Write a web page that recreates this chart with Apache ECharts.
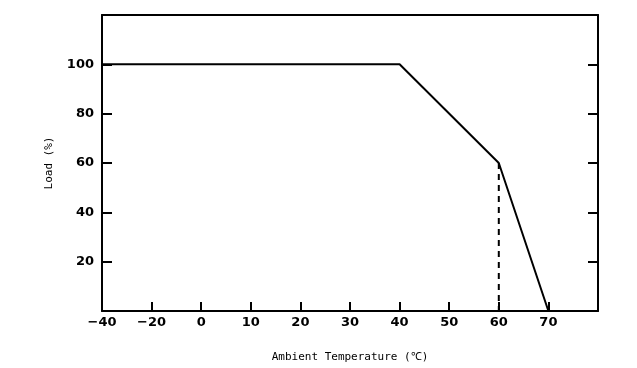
<!DOCTYPE html>
<html>
<head>
<meta charset="utf-8">
<script src="https://cdn.jsdelivr.net/npm/echarts@6/dist/echarts.min.js"></script>
<style>html,body{margin:0;padding:0;background:#fff}#c{width:637px;height:368px}</style>
</head>
<body>
<div id="c"></div>
<script>
var xCategories = ['-40','-20','0','10','20','30','40','50','60','70',''];
var derating = [['-40',100],['40',100],['60',60],['70',0]];
var dashedMark = [['60',60],['60',0]];
var yMin = 0, yMax = 120, yStep = 20;

var chart = echarts.init(document.getElementById('c'));
var lab = {color:'#000', fontFamily:'DejaVu Sans', fontWeight:'bold', fontSize:13};
chart.setOption({
  animation:false,
  grid:{left:102, right:39, top:15, bottom:56},
  xAxis:[{
    type:'category', data:xCategories, boundaryGap:false,
    name:'Ambient Temperature (℃)', nameLocation:'middle', nameGap:41,
    nameTextStyle:{color:'#000', fontFamily:'DejaVu Sans Mono', fontSize:11},
    axisLine:{onZero:false, lineStyle:{color:'#000', width:2}},
    axisTick:{inside:true, length:9, interval:0, lineStyle:{color:'#000', width:2}},
    axisLabel:Object.assign({margin:5, interval:0, formatter:function(v){return v.replace('-','\u2212');}}, lab),
    splitLine:{show:false}
  },{
    type:'category', data:xCategories, boundaryGap:false, position:'top',
    axisLine:{show:true, onZero:false, lineStyle:{color:'#000', width:2}},
    axisTick:{show:false}, axisLabel:{show:false}, splitLine:{show:false}
  }],
  yAxis:[{
    type:'value', min:yMin, max:yMax, interval:yStep,
    name:'Load (%)', nameLocation:'middle', nameGap:47,
    nameTextStyle:{color:'#000', fontFamily:'DejaVu Sans Mono', fontSize:11},
    axisLine:{show:true, onZero:false, lineStyle:{color:'#000', width:2}},
    axisTick:{show:true, inside:true, length:10, lineStyle:{color:'#000', width:2}},
    axisLabel:Object.assign({margin:8, formatter:function(v){return (v===0||v===120)?'':v;}}, lab),
    splitLine:{show:false}
  },{
    type:'value', min:yMin, max:yMax, interval:yStep, position:'right',
    axisLine:{show:true, onZero:false, lineStyle:{color:'#000', width:2}},
    axisTick:{show:true, inside:true, length:10, lineStyle:{color:'#000', width:2}},
    axisLabel:{show:false}, splitLine:{show:false}
  }],
  series:[{
    type:'line', data:derating, showSymbol:false, symbol:'none',
    lineStyle:{color:'#000', width:2}
  },{
    type:'line', data:dashedMark, showSymbol:false, symbol:'none',
    lineStyle:{color:'#000', width:2, type:[6,5]}
  }]
});
</script>
</body>
</html>
